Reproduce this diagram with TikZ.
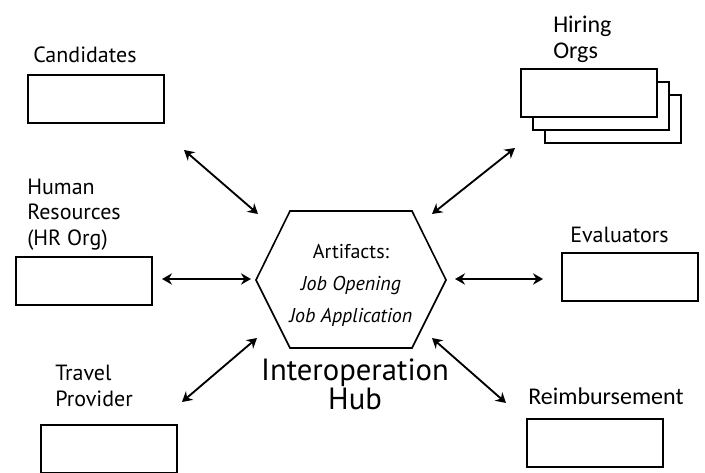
\documentclass[tikz,border=0pt]{standalone}
\usepackage{fontspec}
\setmainfont{PT Sans}
\newfontfamily\calfont{Carlito}
\usetikzlibrary{arrows.meta}
\tikzstyle{arrow} = [line width=1.4pt,{Stealth[length=7.5pt,width=8.5pt,inset=2.5pt]}-{Stealth[length=7.5pt,width=8.5pt,inset=2.5pt]}]
\tikzstyle{box}=[draw, line width=1.2pt, fill=white, inner sep=0pt, minimum width=102pt, minimum height=36pt]
\tikzstyle{tag}=[anchor=north west, align=left, inner sep=0pt, font=\fontsize{16.5}{19}\selectfont]

\begin{document}
\begin{tikzpicture}[x=0.75pt,y=-0.75pt]
    \useasboundingbox (0,0) rectangle (705,473);
    % boxes
    \node (cand)  [box] at (96,99)    {};
    \node (hr)    [box] at (84,281)   {};
    \node (trav)  [box] at (109,449)  {};
    \node (eval)  [box] at (630,277)  {};
    \node (reimb) [box] at (595,443)  {};
    \node (org3)  [box] at (613,119)  {};
    \node (org2)  [box] at (601,106)  {};
    \node (org1)  [box] at (589,93)   {};
    % labels
    \node (candt)  [tag] at (33,47)   {Candidates};
    \node (hrt)    [tag] at (27,179)  {Human\\Resources\\(HR Org)};
    \node (travt)  [tag] at (55,365)  {Travel\\Provider};
    \node (evalt)  [tag] at (570,227) {Evaluators};
    \node (orgt)   [tag, font=\calfont\fontsize{18}{19.5}\selectfont] at (553,16) {Hiring\\Orgs};
    \node (reimbt) [tag, font=\calfont\fontsize{18}{19.5}\selectfont] at (528,388) {Reimbursement};
    % hub
    \draw [line width=1.2pt] (256,280) -- (290,211) -- (412,211) -- (446,280) -- (412,348) -- (290,348) -- cycle;
    \node (hub) [align=center, font=\fontsize{15}{24}\selectfont] at (351,285)
        {Artifacts:\\ \textit{Job Opening}\\ \textit{Job Application}};
    \node (hubt) [anchor=north, align=center, inner sep=0pt, font=\fontsize{23}{20.5}\selectfont] at (355,359)
        {Interoperation\\Hub};
    % arrow ends
    \coordinate (c1) at (184,150); \coordinate (c2) at (258,214);
    \coordinate (h1) at (162,279); \coordinate (h2) at (251,279);
    \coordinate (t1) at (182,402); \coordinate (t2) at (257,338);
    \coordinate (o1) at (432,214); \coordinate (o2) at (515,148);
    \coordinate (e1) at (455,279); \coordinate (e2) at (543,279);
    \coordinate (r1) at (432,338); \coordinate (r2) at (506,403);
    \draw [arrow] (c1) -- (c2);
    \draw [arrow] (h1) -- (h2);
    \draw [arrow] (t1) -- (t2);
    \draw [arrow] (o1) -- (o2);
    \draw [arrow] (e1) -- (e2);
    \draw [arrow] (r1) -- (r2);
\end{tikzpicture}
\end{document}
